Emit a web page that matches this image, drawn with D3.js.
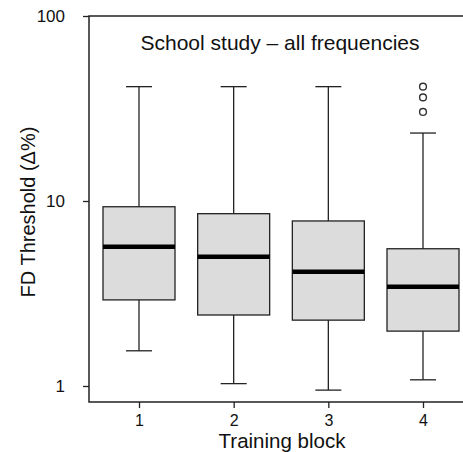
<!DOCTYPE html>
<html>
<head>
<meta charset="utf-8">
<script src="https://cdn.jsdelivr.net/npm/d3@7"></script>
<style>
  body { margin: 0; background: #fff; }
  text { font-family: "Liberation Sans", Arial, sans-serif; fill: #111; }
</style>
</head>
<body>
<div id="chart"></div>
<script>
// data
const blocks = ["1", "2", "3", "4"];
const whiskerLow = [1.55, 1.03, 0.95, 1.08];
const q1 = [2.92, 2.42, 2.27, 1.98];
const median = [5.66, 5.0, 4.15, 3.44];
const q3 = [9.31, 8.54, 7.8, 5.52];
const whiskerHigh = [41.5, 41.5, 41.5, 23.3];
const outliers = [[], [], [], [30.3, 36.3, 41.5]];
const yTicks = [1, 10, 100];

const width = 463,
  height = 452;
const plotLeft = 89,
  plotTop = 16,
  plotBottom = 402;
const boxWidth = 72,
  capWidth = 26;
const ink = "#222";

const svg = d3
  .select("#chart")
  .append("svg")
  .attr("width", width)
  .attr("height", height);

// scales
const x = d3.scalePoint().domain(blocks).range([139, 423]);
const y = d3.scaleLog().domain([1, 100]).range([386, plotTop]);

const rows = blocks.map((b, i) => ({
  block: b,
  lo: whiskerLow[i],
  q1: q1[i],
  med: median[i],
  q3: q3[i],
  hi: whiskerHigh[i],
  out: outliers[i],
}));

// plot frame (right side runs off the picture)
svg
  .append("path")
  .attr("d", `M${width + 5},${plotTop}H${plotLeft}V${plotBottom}H${width + 5}`)
  .attr("fill", "none")
  .attr("stroke", ink)
  .attr("stroke-width", 1.5);

// y axis
const yAxis = svg
  .append("g")
  .attr("transform", `translate(${plotLeft},0)`)
  .call(d3.axisLeft(y).tickValues(yTicks).tickFormat(d3.format("d")).tickSize(6).tickPadding(18));
yAxis.select(".domain").remove();
yAxis.selectAll("line").attr("stroke", ink).attr("stroke-width", 1.3);
yAxis.selectAll("text").style("font-size", "17px").attr("fill", "#111");

// x axis
const xAxis = svg
  .append("g")
  .attr("transform", `translate(0,${plotBottom})`)
  .call(d3.axisBottom(x).tickSize(6).tickPadding(7));
xAxis.select(".domain").remove();
xAxis.selectAll("line").attr("stroke", ink).attr("stroke-width", 1.3);
xAxis.selectAll("text").style("font-size", "16px").attr("fill", "#111");

// boxes
const g = svg.append("g").selectAll("g").data(rows).join("g");

g.append("line")
  .attr("x1", (d) => x(d.block))
  .attr("x2", (d) => x(d.block))
  .attr("y1", (d) => y(d.hi))
  .attr("y2", (d) => y(d.lo))
  .attr("stroke", ink)
  .attr("stroke-width", 1.3);

g.selectAll(".cap")
  .data((d) => [d.lo, d.hi].map((v) => ({ block: d.block, v })))
  .join("line")
  .attr("class", "cap")
  .attr("x1", (d) => x(d.block) - capWidth / 2)
  .attr("x2", (d) => x(d.block) + capWidth / 2)
  .attr("y1", (d) => y(d.v))
  .attr("y2", (d) => y(d.v))
  .attr("stroke", ink)
  .attr("stroke-width", 1.3);

g.append("rect")
  .attr("x", (d) => x(d.block) - boxWidth / 2)
  .attr("width", boxWidth)
  .attr("y", (d) => y(d.q3))
  .attr("height", (d) => y(d.q1) - y(d.q3))
  .attr("fill", "#dcdcdc")
  .attr("stroke", ink)
  .attr("stroke-width", 1.3);

g.append("line")
  .attr("x1", (d) => x(d.block) - boxWidth / 2)
  .attr("x2", (d) => x(d.block) + boxWidth / 2)
  .attr("y1", (d) => y(d.med))
  .attr("y2", (d) => y(d.med))
  .attr("stroke", "#000")
  .attr("stroke-width", 4.5);

g.selectAll("circle")
  .data((d) => d.out.map((v) => ({ block: d.block, v })))
  .join("circle")
  .attr("cx", (d) => x(d.block))
  .attr("cy", (d) => y(d.v))
  .attr("r", 3.4)
  .attr("fill", "none")
  .attr("stroke", "#333")
  .attr("stroke-width", 1.4);

// texts
svg
  .append("text")
  .attr("x", 280)
  .attr("y", 50)
  .attr("text-anchor", "middle")
  .style("font-size", "21px")
  .text("School study \u2013 all frequencies");

svg
  .append("text")
  .attr("x", 282)
  .attr("y", 448)
  .attr("text-anchor", "middle")
  .style("font-size", "20.5px")
  .text("Training block");

svg
  .append("text")
  .attr("transform", "translate(35,212) rotate(-90)")
  .attr("text-anchor", "middle")
  .style("font-size", "20px")
  .text("FD Threshold (\u0394%)");
</script>
</body>
</html>
